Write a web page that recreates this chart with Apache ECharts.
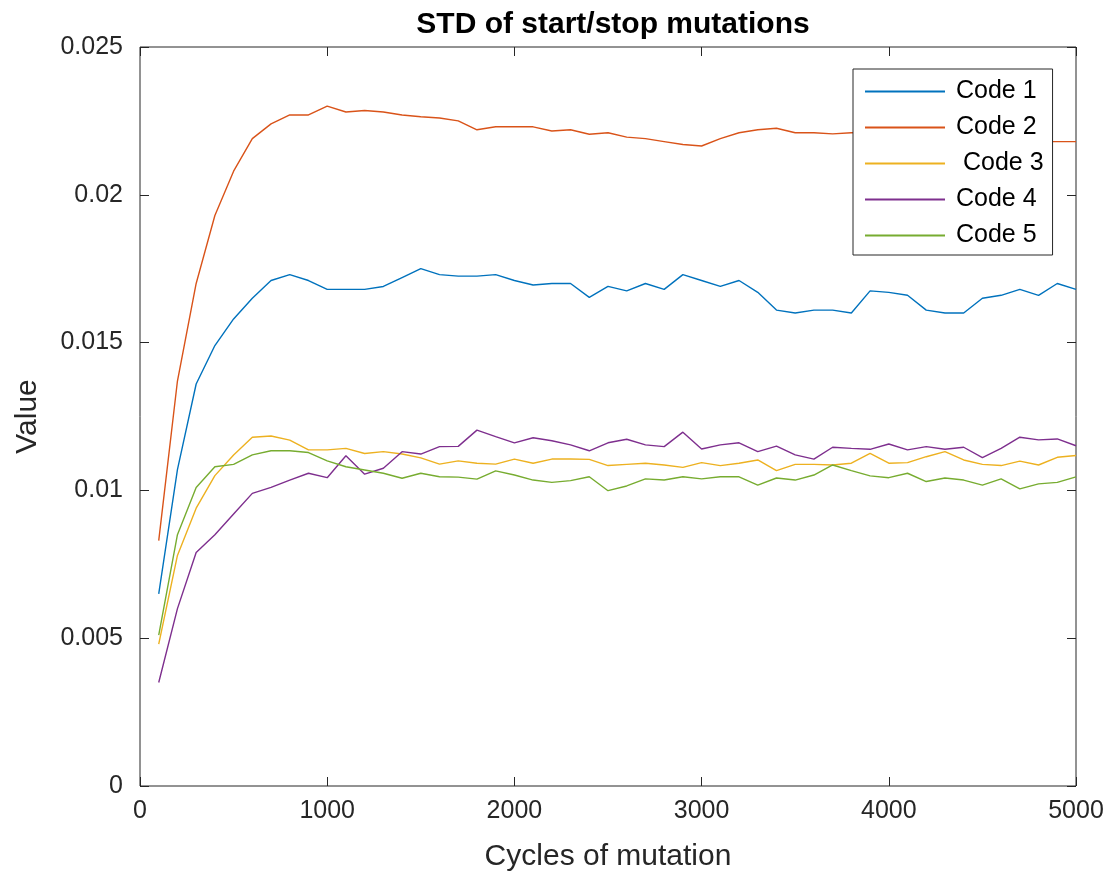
<!DOCTYPE html>
<html>
<head>
<meta charset="utf-8">
<script src="https://cdn.jsdelivr.net/npm/echarts@6/dist/echarts.min.js"></script>
<style>
html,body{margin:0;padding:0;background:#fff;}
#chart{width:1116px;height:879px;}
</style>
</head>
<body>
<div id="chart"></div>
<script>
const titleText = 'STD of start/stop mutations';
const xAxisName = 'Cycles of mutation';
const yAxisName = 'Value';
const seriesNames = ['Code 1', 'Code 2', ' Code 3', 'Code 4', 'Code 5'];
const seriesColors = ['#0072BD', '#D95319', '#EDB120', '#7E2F8E', '#77AC30'];

const cycles = [100,200,300,400,500,600,700,800,900,1000,
  1100,1200,1300,1400,1500,1600,1700,1800,1900,2000,
  2100,2200,2300,2400,2500,2600,2700,2800,2900,3000,
  3100,3200,3300,3400,3500,3600,3700,3800,3900,4000,
  4100,4200,4300,4400,4500,4600,4700,4800,4900,5000];

const code1 = [0.0065,0.0107,0.0136,0.0149,0.0158,0.0165,0.0171,0.0173,0.0171,0.0168,
  0.0168,0.0168,0.0169,0.0172,0.0175,0.0173,0.01725,0.01725,0.0173,0.0171,
  0.01695,0.0170,0.0170,0.01653,0.0169,0.01675,0.0170,0.0168,0.0173,0.0171,
  0.0169,0.0171,0.0167,0.0161,0.0160,0.0161,0.0161,0.0160,0.01675,0.0167,
  0.0166,0.0161,0.0160,0.0160,0.0165,0.0166,0.0168,0.0166,0.0170,0.0168];

const code2 = [0.0083,0.0137,0.0170,0.0193,0.0208,0.0219,0.0224,0.0227,0.0227,0.0230,
  0.0228,0.02285,0.0228,0.0227,0.02264,0.0226,0.0225,0.0222,0.0223,0.0223,
  0.0223,0.02216,0.0222,0.02205,0.0221,0.02195,0.0219,0.0218,0.0217,0.02165,
  0.0219,0.0221,0.0222,0.02225,0.0221,0.0221,0.02206,0.0221,0.0221,0.0220,
  0.0221,0.0220,0.0220,0.0219,0.0220,0.0219,0.0219,0.0218,0.0218,0.0218];

const code3 = [0.0048,0.0078,0.0094,0.0105,0.0112,0.0118,0.01184,0.0117,0.01137,0.01137,
  0.01142,0.01125,0.01131,0.01123,0.0111,0.01089,0.0110,0.01092,0.01089,0.01106,
  0.01092,0.01106,0.01106,0.01105,0.01084,0.01088,0.01092,0.01086,0.01078,0.01094,
  0.01084,0.01092,0.01103,0.01067,0.01088,0.01088,0.01086,0.01092,0.01125,0.01092,
  0.01094,0.01114,0.01131,0.01103,0.01088,0.01084,0.01099,0.01086,0.01112,0.01118];

const code4 = [0.0035,0.0060,0.0079,0.0085,0.0092,0.0099,0.0101,0.01035,0.01058,0.01043,
  0.01117,0.01055,0.01075,0.01131,0.01123,0.01148,0.01149,0.01204,0.01182,0.01161,
  0.01178,0.01168,0.01154,0.01134,0.01161,0.01173,0.01154,0.01148,0.01197,0.0114,
  0.01154,0.01161,0.01131,0.0115,0.0112,0.01106,0.01146,0.01142,0.01139,0.01157,
  0.01137,0.01148,0.01139,0.01146,0.01111,0.01142,0.0118,0.01171,0.01174,0.01151];

const code5 = [0.0051,0.0085,0.0101,0.0108,0.01088,0.0112,0.01134,0.01134,0.01128,0.0110,
  0.0108,0.01069,0.01058,0.01041,0.01058,0.01046,0.01045,0.01038,0.01066,0.01052,
  0.01035,0.01027,0.01033,0.01046,0.00999,0.01015,0.01039,0.01035,0.01046,0.01039,
  0.01046,0.01046,0.01018,0.01042,0.01035,0.01052,0.01086,0.01067,0.01049,0.01043,
  0.01058,0.0103,0.01042,0.01035,0.01018,0.01039,0.01005,0.01022,0.01027,0.01046];

const allSeries = [code1, code2, code3, code4, code5];

const FONT = '"Liberation Sans", Arial, Helvetica, sans-serif';
const AXIS_COLOR = '#262626';

const chart = echarts.init(document.getElementById('chart'), null, {renderer: 'canvas'});

const tickStyle = {show: true, inside: true, length: 9, lineStyle: {color: AXIS_COLOR, width: 1}};

const hiddenAxisCommon = {
  axisLine: {show: false, onZero: false},
  axisTick: tickStyle,
  axisLabel: {show: false},
  splitLine: {show: false}
};

const option = {
  animation: false,
  backgroundColor: '#ffffff',
  title: {
    text: titleText,
    left: 608,
    top: 5,
    textAlign: 'center',
    textStyle: {fontFamily: FONT, fontWeight: 'bold', fontSize: 30, color: '#000000'}
  },
  grid: {
    left: 140, right: 40, top: 47, bottom: 93,
    show: true, borderColor: AXIS_COLOR, borderWidth: 1, backgroundColor: '#ffffff',
    containLabel: false
  },
  legend: {
    orient: 'vertical',
    left: 853, top: 69,
    padding: [10, 9, 7, 12],
    itemGap: 11,
    itemWidth: 80,
    itemHeight: 2,
    icon: 'rect',
    backgroundColor: '#ffffff',
    borderColor: AXIS_COLOR,
    borderWidth: 1,
    borderRadius: 0,
    textStyle: {fontFamily: FONT, fontSize: 25, color: '#000000', lineHeight: 25, padding: [0, 0, 0, 6]},
    data: seriesNames
  },
  xAxis: [{
    type: 'value', min: 0, max: 5000, interval: 1000, position: 'bottom',
    name: xAxisName, nameLocation: 'middle', nameGap: 56,
    nameTextStyle: {fontFamily: FONT, fontSize: 30, color: AXIS_COLOR},
    axisLine: {show: false, onZero: false},
    axisTick: tickStyle,
    axisLabel: {fontFamily: FONT, fontSize: 25, color: AXIS_COLOR, margin: 13,
      formatter: function (v) { return String(v); }},
    splitLine: {show: false}
  }, Object.assign({type: 'value', min: 0, max: 5000, interval: 1000, position: 'top'}, hiddenAxisCommon)],
  yAxis: [{
    type: 'value', min: 0, max: 0.025, interval: 0.005, position: 'left',
    name: yAxisName, nameLocation: 'middle', nameGap: 97,
    nameTextStyle: {fontFamily: FONT, fontSize: 30, color: AXIS_COLOR},
    axisLine: {show: false, onZero: false},
    axisTick: tickStyle,
    axisLabel: {fontFamily: FONT, fontSize: 25, color: AXIS_COLOR, margin: 17,
      formatter: function (v) { return String(parseFloat(v.toFixed(3))); }},
    splitLine: {show: false}
  }, Object.assign({type: 'value', min: 0, max: 0.025, interval: 0.005, position: 'right'}, hiddenAxisCommon)],
  series: seriesNames.map(function (name, i) {
    return {
      name: name,
      type: 'line',
      xAxisIndex: 0,
      yAxisIndex: 0,
      symbol: 'none',
      smooth: false,
      color: seriesColors[i],
      itemStyle: {color: seriesColors[i]},
      lineStyle: {color: seriesColors[i], width: 1.4},
      data: cycles.map(function (c, j) { return [c, allSeries[i][j]]; })
    };
  })
};

chart.setOption(option);
</script>
</body>
</html>
